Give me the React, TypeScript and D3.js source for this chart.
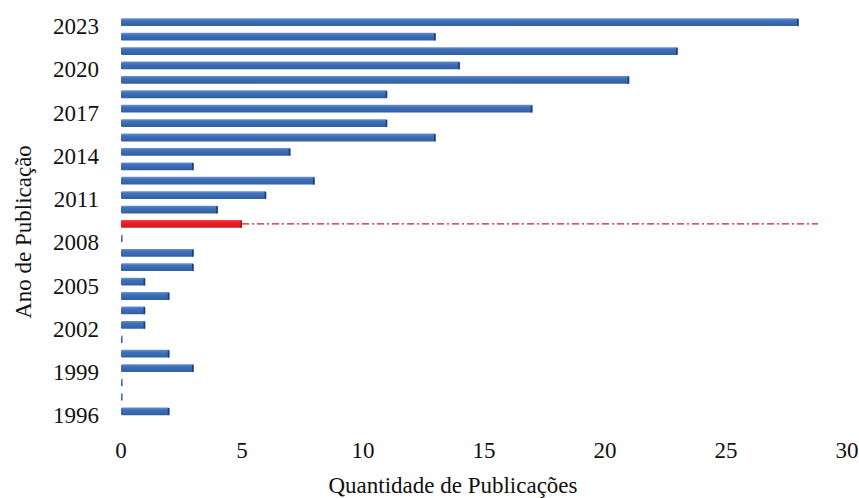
import React, { useEffect, useRef } from "react";
import * as d3 from "d3";

// years from 1996 to 2023, publications per year
const years: number[] = [
  1996, 1997, 1998, 1999, 2000, 2001, 2002, 2003, 2004, 2005, 2006, 2007, 2008, 2009,
  2010, 2011, 2012, 2013, 2014, 2015, 2016, 2017, 2018, 2019, 2020, 2021, 2022, 2023,
];
const counts: number[] = [
  2, 0, 0, 3, 2, 0, 1, 1, 2, 1, 3, 3, 0, 5,
  4, 6, 8, 3, 7, 13, 11, 17, 11, 21, 14, 23, 13, 28,
];
const yTickYears: number[] = [1996, 1999, 2002, 2005, 2008, 2011, 2014, 2017, 2020, 2023];
const xTicks: number[] = [0, 5, 10, 15, 20, 25, 30];
const highlightYear = 2009;

const WIDTH = 859;
const HEIGHT = 498;

const App: React.FC = () => {
  const svgRef = useRef<SVGSVGElement>(null);

  useEffect(() => {
    if (!svgRef.current) return;
    const svg = d3.select(svgRef.current);
    svg.selectAll("*").remove();

    const font = "Liberation Serif";

    const x = d3.scaleLinear().domain([0, 30]).range([121, 847]);
    const y = d3.scaleBand<number>()
      .domain([...years].reverse())
      .range([15, 418.5])
      .paddingInner(0.46)
      .paddingOuter(0.23);

    const defs = svg.append("defs");
    const grad = defs.append("linearGradient")
      .attr("id", "barBlue")
      .attr("x1", 0).attr("y1", 0).attr("x2", 0).attr("y2", 1);
    grad.append("stop").attr("offset", "0%").attr("stop-color", "#6a94d0");
    grad.append("stop").attr("offset", "30%").attr("stop-color", "#3f70ba");
    grad.append("stop").attr("offset", "100%").attr("stop-color", "#30609f");

    const gradR = defs.append("linearGradient")
      .attr("id", "barRed")
      .attr("x1", 0).attr("y1", 0).attr("x2", 0).attr("y2", 1);
    gradR.append("stop").attr("offset", "0%").attr("stop-color", "#f2464d");
    gradR.append("stop").attr("offset", "35%").attr("stop-color", "#ec1c24");
    gradR.append("stop").attr("offset", "100%").attr("stop-color", "#d8161e");

    const data = years.map((yr, i) => ({ year: yr, value: counts[i] }));

    // dash-dot reference line for highlighted year
    const hy = (y(highlightYear) ?? 0) + y.bandwidth() / 2;
    const hv = counts[years.indexOf(highlightYear)];
    svg.append("line")
      .attr("x1", x(hv))
      .attr("x2", 818)
      .attr("y1", hy)
      .attr("y2", hy)
      .attr("stroke", "#d11f26")
      .attr("stroke-width", 1.2)
      .attr("stroke-dasharray", "7,3,2,3");

    const bars = svg.append("g");
    bars.selectAll("rect.bar")
      .data(data)
      .join("rect")
      .attr("class", "bar")
      .attr("x", x(0))
      .attr("y", d => y(d.year) ?? 0)
      .attr("width", d => Math.max(1.6, x(d.value) - x(0)))
      .attr("height", y.bandwidth())
      .attr("rx", 1.2)
      .attr("fill", d => d.year === highlightYear ? "url(#barRed)" : "url(#barBlue)");

    // darker end cap for the 3D look
    bars.selectAll("rect.cap")
      .data(data.filter(d => d.value > 0))
      .join("rect")
      .attr("class", "cap")
      .attr("x", d => x(d.value) - 1.6)
      .attr("y", d => (y(d.year) ?? 0) + 0.6)
      .attr("width", 1.6)
      .attr("height", y.bandwidth() - 0.6)
      .attr("fill", d => d.year === highlightYear ? "#b81219" : "#1d3f78");

    // y tick labels
    svg.append("g")
      .selectAll("text")
      .data(yTickYears)
      .join("text")
      .attr("x", 99)
      .attr("y", d => (y(d) ?? 0) + y.bandwidth() / 2 + 4)
      .attr("dy", "0.35em")
      .attr("text-anchor", "end")
      .attr("font-family", font)
      .attr("font-size", 23)
      .attr("fill", "#111")
      .text(d => String(d));

    // x tick labels
    svg.append("g")
      .selectAll("text")
      .data(xTicks)
      .join("text")
      .attr("x", d => x(d))
      .attr("y", 450)
      .attr("dy", "0.35em")
      .attr("text-anchor", "middle")
      .attr("font-family", font)
      .attr("font-size", 23)
      .attr("fill", "#111")
      .text(d => String(d));

    svg.append("text")
      .attr("x", 453)
      .attr("y", 485)
      .attr("dy", "0.35em")
      .attr("text-anchor", "middle")
      .attr("font-family", font)
      .attr("font-size", 23)
      .attr("fill", "#111")
      .text("Quantidade de Publicações");

    svg.append("text")
      .attr("transform", `translate(23,232) rotate(-90)`)
      .attr("dy", "0.35em")
      .attr("text-anchor", "middle")
      .attr("font-family", font)
      .attr("font-size", 23)
      .attr("fill", "#111")
      .text("Ano de Publicação");
  }, []);

  return (
    <svg
      ref={svgRef}
      width={WIDTH}
      height={HEIGHT}
      viewBox={`0 0 ${WIDTH} ${HEIGHT}`}
      style={{ position: "fixed", top: 0, left: 0, background: "#ffffff", display: "block" }}
    />
  );
};

export default App;
